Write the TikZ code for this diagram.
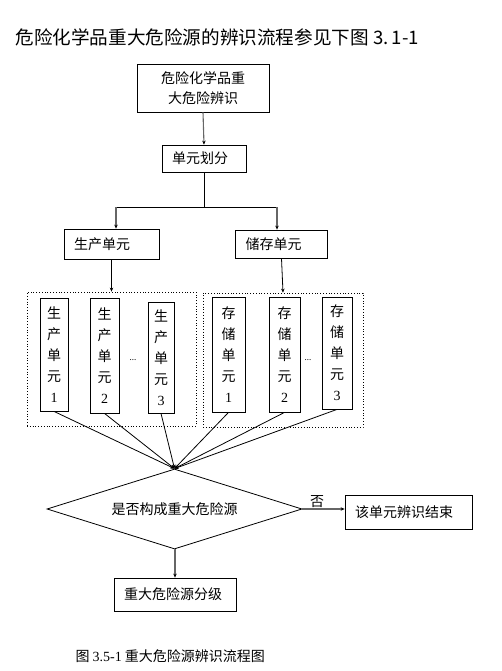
\documentclass[tikz,border=0pt]{standalone}
\usepackage{fontspec}
\setmainfont{Noto Sans CJK SC}
\newfontfamily\numfont{Liberation Serif}
\usetikzlibrary{shapes.geometric,arrows.meta}
\begin{document}
\begin{tikzpicture}[x=1pt,y=-1pt,
  		font=\fontsize{14}{20}\selectfont,
  		box/.style={draw,line width=0.8pt,inner sep=0pt},
  		leftbox/.style={draw,line width=0.8pt,inner ysep=0pt,inner xsep=10pt,align=left,text width=#1},
  		unit/.style={draw,line width=0.8pt,inner sep=0pt,align=center,font=\fontsize{14}{21}\selectfont},
  		group/.style={draw,dotted,line width=0.8pt,inner sep=0pt},
  		tip/.style={-{Stealth[length=4pt,width=3.5pt,black]}},
  		grayarrow/.style={tip,draw=black!60,line width=1.1pt}]
  		\useasboundingbox (0,0) rectangle (502,671);
  		\node[anchor=west,font=\fontsize{18.6}{20}\selectfont] (title) at (12,37) {危险化学品重大危险源的辨识流程参见下图 3.\,1-1};
  		\node[box,minimum width=132pt,minimum height=48pt,align=center] (ident) at (203,88) {危险化学品重\\大危险辨识};
  		\node[leftbox=64pt,minimum height=27pt] (divide) at (204,158.5) {单元划分};
  		\node[leftbox=75pt,minimum height=30pt] (prod) at (111.5,244) {生产单元};
  		\node[leftbox=72pt,minimum height=28pt] (store) at (281.5,244) {储存单元};
  		\node[group,minimum width=169pt,minimum height=134pt] (prodgroup) at (111.5,359) {};
  		\node[group,minimum width=160pt,minimum height=134pt] (storegroup) at (283,360) {};
  		\node[unit,minimum width=28pt,minimum height=113pt] (p1) at (54,354.5) {生\\产\\单\\元\\{\numfont 1}};
  		\node[unit,minimum width=29pt,minimum height=115pt] (p2) at (104.5,355.5) {生\\产\\单\\元\\{\numfont 2}};
  		\node[unit,minimum width=26pt,minimum height=111pt] (p3) at (161,357.5) {生\\产\\单\\元\\{\numfont 3}};
  		\node[unit,minimum width=33pt,minimum height=115pt] (s1) at (228.5,354.5) {存\\储\\单\\元\\{\numfont 1}};
  		\node[unit,minimum width=31pt,minimum height=115pt] (s2) at (284.5,354.5) {存\\储\\单\\元\\{\numfont 2}};
  		\node[unit,minimum width=30pt,minimum height=112pt] (s3) at (337,353) {存\\储\\单\\元\\{\numfont 3}};
  		\node[font=\fontsize{8}{8}\selectfont] (pdots) at (133,360) {...};
  		\node[font=\fontsize{8}{8}\selectfont] (sdots) at (308,360) {...};
  		\node[diamond,draw,line width=0.8pt,aspect=3.19,inner sep=0pt,minimum width=255pt,minimum height=80pt] (check) at (174.5,509) {是否构成重大危险源};
  		\node[leftbox=107pt,minimum height=34pt] (finish) at (408.5,512) {该单元辨识结束};
  		\node[leftbox=102pt,minimum height=33pt] (grade) at (175,594.5) {重大危险源分级};
  		\node[anchor=west] (caption) at (72,656) {图 {\numfont 3.5-1} 重大危险源辨识流程图};
  		\coordinate (split) at (204,207);
  		\coordinate (splitl) at (116,207);
  		\coordinate (splitr) at (277,207);
  		\draw[grayarrow] (ident.south) -- (divide.north);
  		\draw[line width=0.8pt] (divide.south) -- (split);
  		\draw[line width=0.8pt] (splitl) -- (splitr);
  		\draw[grayarrow] (splitl) -- (splitl |- prod.north);
  		\draw[grayarrow] (splitr) -- (splitr |- store.north);
  		\draw[tip,line width=0.8pt] (prod.south) -- (prodgroup.north);
  		\draw[tip,line width=0.8pt] (store.south) -- (storegroup.north);
  		\draw[tip,line width=0.8pt] (p1.south) -- (check.north);
  		\draw[tip,line width=0.8pt] (p2.south) -- (check.north);
  		\draw[tip,line width=0.8pt] (p3.south) -- (check.north);
  		\draw[tip,line width=0.8pt] (s1.south) -- (check.north);
  		\draw[tip,line width=0.8pt] (s2.south) -- (check.north);
  		\draw[tip,line width=0.8pt] (s3.south) -- (check.north);
  		\draw[grayarrow] (check.east) -- node[above,pos=0.35,inner sep=1pt,text=black] (no) {否} (check.east -| finish.west);
  		\draw[grayarrow] (check.south) -- (check.south -| grade.north) -- (grade.north);
\end{tikzpicture}
\end{document}
